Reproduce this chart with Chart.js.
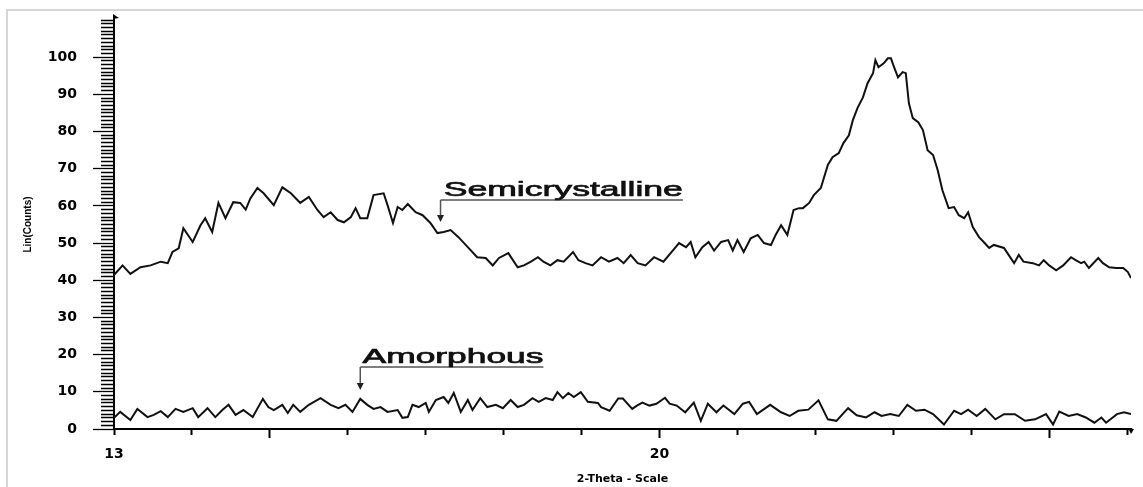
<!DOCTYPE html>
<html>
<head>
<meta charset="utf-8">
<script src="https://cdn.jsdelivr.net/npm/chart.js@4.4.0/dist/chart.umd.min.js"></script>
<style>
  html, body { margin: 0; padding: 0; background: #fff; }
  #wrap { position: relative; width: 1143px; height: 487px; overflow: hidden; }
  #frame { position: absolute; left: 6px; top: 9px; right: -4px; bottom: -4px; border-top: 2px solid #d6d6d6; border-left: 2px solid #d6d6d6; }
  canvas { position: absolute; left: 0; top: 0; }
</style>
</head>
<body>
<div id="wrap"><div id="frame"></div><canvas id="xrd" width="1143" height="487"></canvas></div>
<script>
// 2-theta positions and counts of the two scans
const semiTheta = [13.00,13.11,13.21,13.34,13.47,13.60,13.69,13.75,13.83,13.89,14.01,14.11,14.17,14.26,14.34,14.43,14.53,14.62,14.69,14.75,
  14.84,14.92,15.05,15.16,15.27,15.39,15.50,15.61,15.69,15.78,15.87,15.95,16.04,16.10,16.16,16.25,16.33,16.46,16.51,16.58,
  16.64,16.70,16.77,16.87,16.96,17.06,17.15,17.23,17.32,17.42,17.54,17.66,17.77,17.86,17.94,
  18.06,18.18,18.26,18.35,18.44,18.51,18.60,18.69,18.77,18.89,18.96,19.05,19.14,19.25,19.35,19.46,19.54,19.63,19.72,19.82,
  19.93,20.05,20.17,20.25,20.34,20.40,20.46,20.55,20.63,20.70,20.79,20.88,20.94,21.00,21.08,21.17,21.26,21.34,21.43,21.49,
  21.56,21.64,21.72,21.79,
  21.84,21.92,21.98,22.07,22.16,22.22,22.30,22.36,22.43,22.48,22.54,22.61,22.67,22.74,22.77,22.81,22.88,22.93,22.97,23.01,
  23.06,23.12,23.16,23.20,23.25,23.32,23.38,23.44,23.51,23.57,23.63,23.71,23.78,23.84,23.91,23.96,24.02,24.10,24.16,24.23,
  24.29,24.42,24.55,24.61,24.67,24.79,24.87,24.93,25.00,25.09,25.18,25.28,25.34,25.41,25.45,25.51,25.63,25.69,25.77,25.86,
  25.95,26.01,26.05];
const semiCounts = [41.4,44.0,41.7,43.5,44.0,45.0,44.6,47.6,48.6,54.0,50.3,54.8,56.7,53.0,60.8,56.7,61.0,60.8,59.0,62.0,
  64.8,63.4,60.2,65.0,63.4,60.8,62.4,58.9,57.0,58.3,56.2,55.6,57.0,59.4,56.7,56.7,62.9,63.4,60.2,55.4,
  59.7,58.9,60.5,58.3,57.5,55.4,52.7,53.0,53.5,51.6,48.9,46.2,46.0,44.0,46.0,
  47.3,43.5,44.0,45.0,46.2,45.0,44.0,45.4,45.0,47.6,45.4,44.6,44.0,46.2,45.0,46.0,44.6,46.8,44.6,44.0,
  46.2,45.0,48.0,50.0,48.9,50.3,46.2,48.9,50.3,48.0,50.3,50.8,48.0,50.8,47.6,51.3,52.2,50.0,49.5,52.2,
  54.8,52.2,58.9,59.4,
  59.4,60.8,62.9,64.8,71.0,73.1,74.2,76.9,79.0,83.0,86.3,89.2,93.0,95.7,99.2,97.3,98.4,99.7,99.7,97.3,
  94.6,96.0,95.7,87.6,83.6,82.5,80.4,75.0,73.7,69.6,64.2,59.4,59.7,57.5,56.7,58.3,54.3,51.6,50.3,48.7,
  49.5,48.7,44.6,46.8,45.0,44.6,44.0,45.4,44.0,42.7,44.0,46.2,45.4,44.6,45.0,43.3,46.0,44.6,43.5,43.3,
  43.3,42.2,40.6];

const amorTheta = [13.00,13.08,13.21,13.30,13.43,13.51,13.60,13.69,13.79,13.89,14.01,14.08,14.20,14.30,14.39,14.47,14.56,14.66,14.78,14.91,
  14.98,15.05,15.16,15.23,15.30,15.39,15.50,15.65,15.78,15.88,15.97,16.06,16.16,16.25,16.33,16.42,16.51,16.64,16.70,16.77,
  16.83,16.91,17.00,17.04,17.13,17.23,17.29,17.36,17.45,17.54,17.60,17.70,17.79,17.90,17.99,18.09,18.18,18.26,18.37,18.45,
  18.54,18.63,18.69,18.76,18.83,18.90,18.99,19.08,19.21,
  19.25,19.36,19.47,19.53,19.65,19.71,19.78,19.87,19.96,20.07,20.13,20.22,20.33,20.44,20.53,20.62,20.73,20.82,20.96,21.07,
  21.15,21.25,21.42,21.56,21.67,21.78,21.91,22.04,22.16,22.27,22.42,22.53,22.65,22.76,22.85,22.96,23.07,23.18,23.29,23.40,
  23.51,23.65,23.78,23.87,23.96,24.07,24.18,24.31,24.42,24.56,24.69,24.82,24.96,25.05,25.13,25.25,25.36,25.47,25.58,25.67,
  25.73,25.87,25.96,26.05];
const amorCounts = [3.0,4.6,2.4,5.4,3.2,3.8,4.8,3.2,5.4,4.6,5.6,3.2,5.6,3.2,5.1,6.5,3.8,5.1,3.2,8.1,
  5.9,5.1,6.5,4.3,6.5,4.6,6.5,8.3,6.5,5.6,6.5,4.6,8.1,6.5,5.4,5.9,4.6,5.1,3.0,3.2,
  6.5,5.9,7.0,4.6,7.8,8.6,7.0,9.7,4.6,7.8,5.1,8.3,5.9,6.5,5.6,7.8,5.9,6.5,8.3,7.3,
  8.3,7.8,9.9,8.3,9.7,8.6,9.9,7.3,7.0,
  5.9,4.9,8.2,8.2,5.4,6.3,7.1,6.3,6.8,8.4,6.8,6.3,4.5,7.1,2.2,6.8,4.5,6.3,4.0,6.8,
  7.3,4.0,6.5,4.5,3.5,4.9,5.2,7.7,2.6,2.2,5.6,3.7,3.1,4.5,3.5,4.0,3.5,6.5,4.9,5.2,
  4.0,1.2,4.9,4.0,5.2,3.5,5.4,2.6,4.0,4.0,2.2,2.6,4.0,1.2,4.7,3.5,4.0,3.1,1.7,3.1,
  1.7,4.0,4.5,4.0];

const thetaLabels = [13, 20];
const thetaMajor = [15, 20, 25];

const toPoints = (xs, ys) => xs.map((x, i) => ({ x: x, y: ys[i] }));

// text over an underline, with a small arrow dropping onto the trace
const callouts = [
  { text: 'Semicrystalline', arrowX: 17.19, tipY: 55.7, lineY: 61.6, textX: 17.23, endX: 20.30, size: 21 },
  { text: 'Amorphous', arrowX: 16.16, tipY: 10.5, lineY: 16.7, textX: 16.19, endX: 18.51, size: 20 }
];

const calloutPlugin = {
  id: 'callouts',
  afterDatasetsDraw(chart) {
    const { ctx, scales: { x, y } } = chart;
    ctx.save();
    callouts.forEach(c => {
      const ax = x.getPixelForValue(c.arrowX);
      const ly = y.getPixelForValue(c.lineY);
      const ty = y.getPixelForValue(c.tipY);
      const tx = x.getPixelForValue(c.textX);
      const ex = x.getPixelForValue(c.endX);
      ctx.strokeStyle = '#555';
      ctx.lineWidth = 1.5;
      ctx.beginPath();
      ctx.moveTo(ax, ly);
      ctx.lineTo(ex, ly);
      ctx.moveTo(ax, ly);
      ctx.lineTo(ax, ty - 6);
      ctx.stroke();
      ctx.fillStyle = '#222';
      ctx.beginPath();
      ctx.moveTo(ax - 3.5, ty - 7);
      ctx.lineTo(ax + 3.5, ty - 7);
      ctx.lineTo(ax, ty);
      ctx.closePath();
      ctx.fill();
      // the label is widened to run the length of its underline
      ctx.font = c.size + 'px "Liberation Sans", Arial, sans-serif';
      ctx.textBaseline = 'alphabetic';
      ctx.textAlign = 'left';
      const w = ctx.measureText(c.text).width;
      ctx.save();
      ctx.translate(tx, ly - 4);
      ctx.scale((ex - tx) / w, 1);
      ctx.fillStyle = '#111';
      ctx.strokeStyle = '#111';
      ctx.lineWidth = 0.7;
      ctx.fillText(c.text, 0, 0);
      ctx.strokeText(c.text, 0, 0);
      ctx.restore();
    });
    ctx.restore();
  }
};

// little arrowheads on the ends of both axes
const axisArrows = {
  id: 'axisArrows',
  afterDraw(chart) {
    const { ctx, chartArea: a } = chart;
    ctx.save();
    ctx.strokeStyle = '#000';
    ctx.fillStyle = '#000';
    ctx.lineWidth = 2;
    ctx.beginPath();
    ctx.moveTo(a.left, a.top + 1);
    ctx.lineTo(a.left, a.top - 5);
    ctx.stroke();
    ctx.beginPath();
    ctx.moveTo(a.left - 1, a.top - 6);
    ctx.lineTo(a.left + 5, a.top - 2);
    ctx.lineTo(a.left - 1, a.top - 1);
    ctx.closePath();
    ctx.fill();
    ctx.beginPath();
    ctx.moveTo(a.right - 3, a.bottom - 1);
    ctx.lineTo(a.right + 3, a.bottom);
    ctx.lineTo(a.right, a.bottom + 5);
    ctx.closePath();
    ctx.fill();
    ctx.restore();
  }
};

const boldFont = { family: '"DejaVu Sans", sans-serif', size: 14, weight: 'bold' };

new Chart(document.getElementById('xrd'), {
  type: 'line',
  data: {
    datasets: [{
      label: 'Semicrystalline',
      data: toPoints(semiTheta, semiCounts),
      borderColor: '#111',
      borderWidth: 2,
      pointRadius: 0,
      tension: 0
    }, {
      label: 'Amorphous',
      data: toPoints(amorTheta, amorCounts),
      borderColor: '#111',
      borderWidth: 2,
      pointRadius: 0,
      tension: 0
    }]
  },
  options: {
    responsive: false,
    animation: false,
    devicePixelRatio: 1,
    layout: { padding: { top: 20, right: 12, left: 0, bottom: 0 } },
    plugins: {
      legend: { display: false },
      tooltip: { enabled: false }
    },
    scales: {
      x: {
        type: 'linear',
        min: 13,
        max: 26.05,
        afterFit: s => { s.height = 58; },
        border: { color: '#000', width: 2 },
        grid: {
          drawOnChartArea: false,
          tickLength: 9,
          tickWidth: 2,
          tickColor: '#000',
          tickBorderDash: c => (c.tick && !thetaMajor.includes(c.tick.value)) ? [5, 30] : []
        },
        ticks: {
          stepSize: 1,
          includeBounds: false,
          autoSkip: false,
          maxRotation: 0,
          padding: 8,
          color: '#000',
          font: boldFont,
          callback: v => thetaLabels.includes(v) ? String(v) : ''
        },
        title: {
          display: true,
          text: '2-Theta - Scale',
          color: '#000',
          font: { family: '"DejaVu Sans", sans-serif', size: 11, weight: 'bold' },
          padding: { top: 0, bottom: 1 }
        }
      },
      y: {
        min: 0,
        max: 110,
        afterFit: s => { s.width = 114; s.paddingTop = 0; s.paddingBottom = 0; },
        border: { color: '#000', width: 2 },
        grid: {
          drawOnChartArea: false,
          tickLength: 21,
          tickWidth: 1.3,
          tickColor: '#000',
          tickBorderDash: c => (c.tick && c.tick.value % 10 === 0 && c.tick.value <= 100) ? [] : [0, 8, 13, 40]
        },
        ticks: {
          stepSize: 1,
          autoSkip: false,
          padding: 16,
          color: '#000',
          font: boldFont,
          callback: v => (v % 10 === 0 && v <= 100) ? String(v) : ''
        },
        title: {
          display: true,
          text: 'Lin(Counts)',
          color: '#000',
          font: { family: '"Liberation Sans", Arial, sans-serif', size: 10, weight: 'bold' },
          padding: { top: 22, bottom: 0 }
        }
      }
    }
  },
  plugins: [calloutPlugin, axisArrows]
});
</script>
</body>
</html>
